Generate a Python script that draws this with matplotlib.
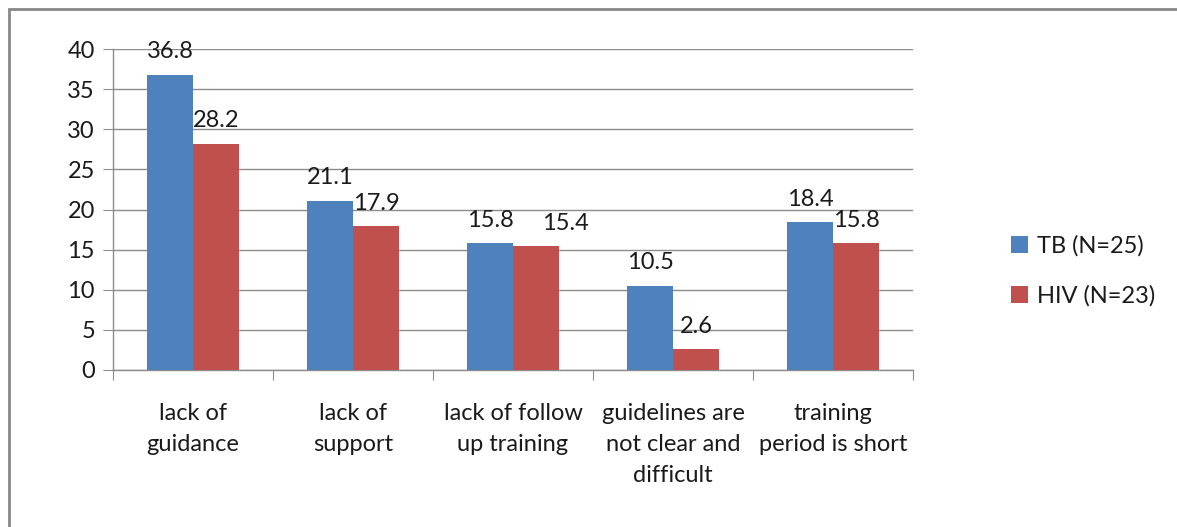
import matplotlib
matplotlib.use("Agg")
import matplotlib.pyplot as plt
from matplotlib.patches import Rectangle
import numpy as np

categories = ["lack of\nguidance", "lack of\nsupport", "lack of follow\nup training",
              "guidelines are\nnot clear and\ndifficult", "training\nperiod is short"]
tb_values = [36.8, 21.1, 15.8, 10.5, 18.4]
hiv_values = [28.2, 17.9, 15.4, 2.6, 15.8]
series_names = ["TB (N=25)", "HIV (N=23)"]
yticks = [0, 5, 10, 15, 20, 25, 30, 35, 40]

plt.rcParams['font.family'] = ['Lato', 'DejaVu Sans']
FS = 17
TXT = "#1a1a1a"

W, H = 1177, 527
fig = plt.figure(figsize=(W/100, H/100), dpi=100)
ax = fig.add_axes([113/W, 1-370/H, (913-113)/W, (370-49)/H])

blue = "#4F81BD"
red = "#C0504D"
x = np.arange(len(categories))
bw = 0.2875
ax.bar(x - bw/2, tb_values, bw, color=blue, label=series_names[0], zorder=3)
ax.bar(x + bw/2, hiv_values, bw, color=red, label=series_names[1], zorder=3)

for xi, v in zip(x - bw/2, tb_values):
    ax.annotate(f"{v}", (xi, v), xytext=(0, 9), textcoords="offset points",
                ha="center", va="bottom", fontsize=FS, color=TXT, zorder=4)
for i, (xi, v) in enumerate(zip(x + bw/2, hiv_values)):
    dx = 21 if i == 2 else 0  # label nudged right in the original to avoid overlap
    ax.annotate(f"{v}", (xi, v), xytext=(dx, 9), textcoords="offset points",
                ha="center", va="bottom", fontsize=FS, color=TXT, zorder=4)

ax.set_xlim(-0.5, len(categories) - 0.5)
ax.set_ylim(0, 40)
ax.set_yticks(yticks)
ax.set_yticklabels([str(t) for t in yticks], fontsize=FS, color=TXT)
ax.yaxis.grid(True, color="#8c8c8c", linewidth=1.0, zorder=0)
ax.set_axisbelow(True)

ax.set_xticks(np.arange(len(categories) + 1) - 0.5, minor=False)
ax.set_xticklabels([])
ax.tick_params(axis='x', length=7, color="#8c8c8c", direction='out')
ax.tick_params(axis='y', length=7, color="#8c8c8c", direction='out', pad=6)
ax.set_xticks(x, minor=True)
ax.set_xticklabels(categories, minor=True, fontsize=FS, color=TXT, linespacing=1.57)
ax.tick_params(axis='x', which='minor', length=0, pad=24)

for s in ["top", "right"]:
    ax.spines[s].set_visible(False)
for s in ["left", "bottom"]:
    ax.spines[s].set_color("#8c8c8c")
    ax.spines[s].set_linewidth(1.0)

leg = fig.legend(loc="upper left", bbox_to_anchor=(990/W, 1-214/H), frameon=False,
                 fontsize=FS, handlelength=0.7, handleheight=0.7, labelspacing=1.2,
                 handletextpad=0.4)
for t in leg.get_texts():
    t.set_color(TXT)

fig.patches.append(Rectangle((9/W, -0.1), 1.2, 1 - 9/H + 0.1, transform=fig.transFigure,
                             fill=False, edgecolor="#888888", linewidth=2))

fig.savefig("out.png", dpi=100, facecolor="white")
